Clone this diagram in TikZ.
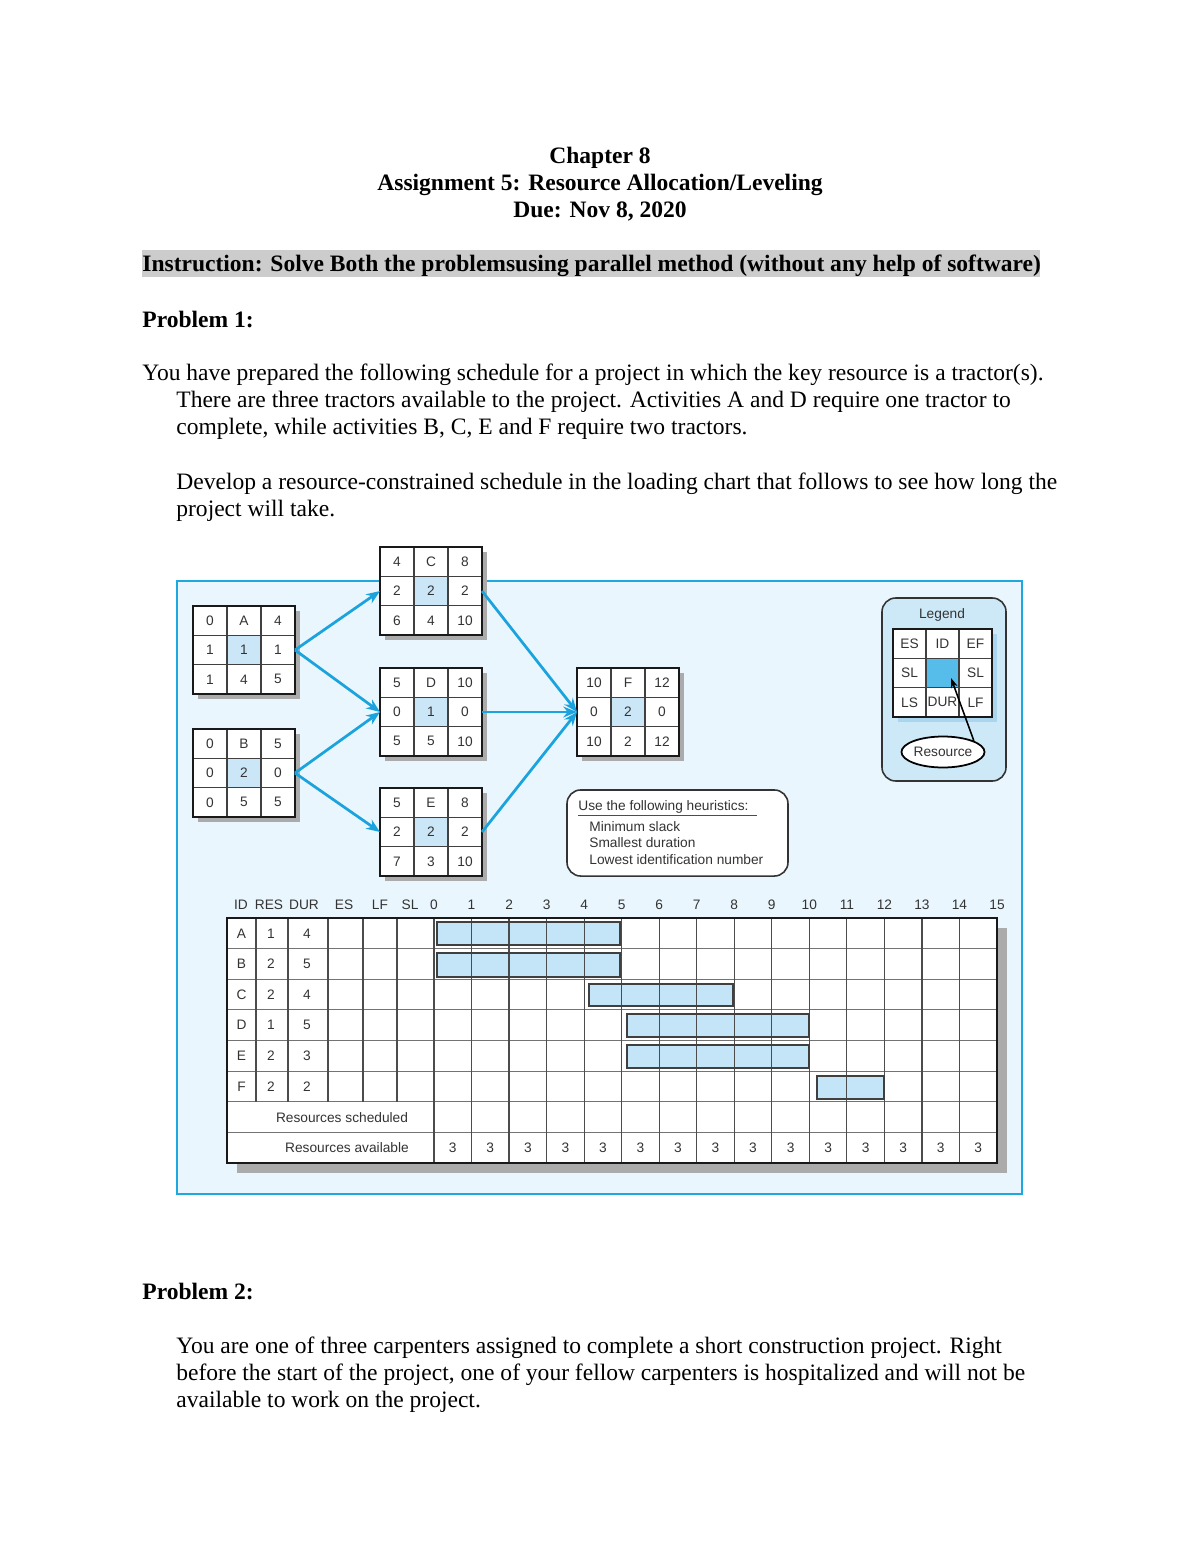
\documentclass[tikz,border=0pt]{standalone}
\usepackage{fontspec}
\setmainfont{Liberation Serif}
\newfontfamily\dsans{Liberation Sans}
\usetikzlibrary{arrows.meta,shapes.geometric}
\definecolor{panelfill}{HTML}{EAF6FD}
\definecolor{panelline}{HTML}{1EA8E0}
\definecolor{flowcol}{HTML}{1BA3DD}
\definecolor{cellblue}{HTML}{CBE7F7}
\definecolor{legfill}{HTML}{CDE9F8}
\definecolor{legmid}{HTML}{56BDEA}
\definecolor{legshadow}{HTML}{A9D6EE}
\definecolor{barblue}{HTML}{C4E5F7}
\definecolor{shadowgray}{HTML}{ABABAB}
\definecolor{dtext}{HTML}{333333}
\tikzset{
 body/.style={anchor=base west, inner sep=0, font=\fontsize{12}{13.8}\selectfont},
 bodyb/.style={anchor=base west, inner sep=0, font=\fontsize{12}{13.8}\selectfont\bfseries},
 titleb/.style={anchor=base, inner sep=0, font=\fontsize{12}{13.8}\selectfont\bfseries},
 dlabel/.style={inner sep=0, text=dtext, font=\dsans\fontsize{7}{8}\selectfont},
 actnode/.style={rectangle, fill=white, minimum width=52.02pt, minimum height=44.88pt, inner sep=0, outer sep=0},
 innerline/.style={draw=black!75, line width=0.6pt},
 outerline/.style={draw=black!90, line width=1.1pt},
 flow/.style={draw=flowcol, line width=1.4pt, -{Stealth[length=7pt,width=5.5pt]}},
 gridline/.style={draw=black!70, line width=0.6pt},
}
\newcommand\actbox[5]{%
  \begin{scope}[shift={#2}]
    \fill[shadowgray] (-46,-39) rectangle (56,49);
    \node[actnode] (#1) at (0,0) {};
    \fill[cellblue] (-17,-14.667) rectangle (17,14.667);
    \draw[innerline] (-17,-44) -- (-17,44) (17,-44) -- (17,44)
      (-51,-14.667) -- (51,-14.667) (-51,14.667) -- (51,14.667);
    \draw[outerline] (-51,-44) rectangle (51,44);
    \foreach \a/\b/\c [count=\r] in {#3,#4,#5}{
      \node[dlabel] at (-34,{(\r-2)*29.333}) {\a};
      \node[dlabel] at (0,{(\r-2)*29.333}) {\b};
      \node[dlabel] at (34,{(\r-2)*29.333}) {\c};
    }
  \end{scope}}
\begin{document}
\begin{tikzpicture}[x=0.51pt,y=-0.51pt]
\useasboundingbox[fill=white] (0,0) rectangle (1200,1553);
% ---- header text
\node[titleb] (t1) at (600,164) {Chapter 8};
\node[titleb] (t2) at (600,191) {Assignment 5: Resource Allocation/Leveling};
\node[titleb] (t3) at (600,218) {Due: Nov 8, 2020};
\fill[black!20] (142,250) rectangle (1040,277);
\node[bodyb] (instr) at (142,271) {Instruction: Solve Both the problemsusing parallel method (without any help of software)};
\node[bodyb] (p1) at (142,327) {Problem 1:};
\node[body] (l1) at (142,380) {You have prepared the following schedule for a project in which the key resource is a tractor(s).};
\node[body] (l2) at (176,407) {There are three tractors available to the project. Activities A and D require one tractor to};
\node[body] (l3) at (176,434) {complete, while activities B, C, E and F require two tractors.};
\node[body] (l4) at (176,489) {Develop a resource-constrained schedule in the loading chart that follows to see how long the};
\node[body] (l5) at (176,516) {project will take.};
\node[bodyb] (p2) at (142,1299) {Problem 2:};
\node[body] (m1) at (176,1353) {You are one of three carpenters assigned to complete a short construction project. Right};
\node[body] (m2) at (176,1380) {before the start of the project, one of your fellow carpenters is hospitalized and will not be};
\node[body] (m3) at (176,1407) {available to work on the project.};
% ---- panel
\draw[draw=panelline, fill=panelfill, line width=1.3pt] (177,581) rectangle (1022,1194);
% ---- activity boxes
\actbox{A}{(244,650)}{0/A/4}{1/1/1}{1/4/5}
\actbox{B}{(244,773)}{0/B/5}{0/2/0}{0/5/5}
\actbox{C}{(431,591)}{4/C/8}{2/2/2}{6/4/10}
\actbox{D}{(431,712)}{5/D/10}{0/1/0}{5/5/10}
\actbox{E}{(431,832)}{5/E/8}{2/2/2}{7/3/10}
\actbox{F}{(628,712)}{10/F/12}{0/2/0}{10/2/12}
\draw[flow] (A.east) -- (C.west);
\draw[flow] (A.east) -- (D.west);
\draw[flow] (B.east) -- (D.west);
\draw[flow] (B.east) -- (E.west);
\draw[flow] (C.east) -- (F.west);
\draw[flow] (D.east) -- (F.west);
\draw[flow] (E.east) -- (F.west);
% ---- legend
\node[draw=black!80, line width=0.8pt, fill=legfill, rounded corners=7pt, minimum width=63.24pt, minimum height=93.33pt, inner sep=0] (legend) at (944,689.5) {};
\node[dlabel] (legt) at (942,615) {Legend};
\fill[legshadow] (898,634) rectangle (997,722);
\fill[white] (893,629) rectangle (992,717);
\fill[legmid] (926,658.33) rectangle (959,687.67);
\draw[innerline] (926,629) -- (926,717) (959,629) -- (959,717) (893,658.33) -- (992,658.33) (893,687.67) -- (992,687.67);
\draw[outerline] (893,629) rectangle (992,717);
\foreach \a/\b/\c [count=\r] in {ES/ID/EF,SL//SL,LS/DUR/LF}{
  \node[dlabel] at (909.5,{629+29.33*(\r-0.5)}) {\a};
  \node[dlabel] at (942.5,{629+29.33*(\r-0.5)}) {\b};
  \node[dlabel] at (975.5,{629+29.33*(\r-0.5)}) {\c};
}
\node[ellipse, draw=black, line width=0.9pt, fill=white, minimum width=42.3pt, minimum height=15.8pt, inner sep=0, text=dtext, font=\dsans\fontsize{7}{8}\selectfont] (res) at (943,752) {Resource};
\coordinate (legc) at (951,678);
\draw[black, line width=0.8pt, -{Stealth[length=5pt,width=3.5pt]}] (res.20) -- (legc);
% ---- heuristics
\node[draw=black!80, line width=0.8pt, fill=white, rounded corners=7pt, minimum width=112.7pt, minimum height=43.9pt, inner sep=0] (heur) at (677.5,833) {};
\node[dlabel, anchor=west] (h0) at (578,807) {Use the following heuristics:};
\draw[black!70, line width=0.5pt] (578,815) -- (757,815);
\node[dlabel, anchor=west] (h1) at (589,827) {Minimum slack};
\node[dlabel, anchor=west] (h2) at (589,843) {Smallest duration};
\node[dlabel, anchor=west] (h3) at (589,860) {Lowest identification number};
% ---- loading chart
\fill[shadowgray] (237,928) rectangle (1007,1173);
\fill[white] (227,918) rectangle (997,1163);
\foreach \x/\y/\u/\v in {437/922/620/945, 437/953/620/977, 589/984/733/1006, 627/1014/809/1037, 627/1045/809/1068, 817/1076/884/1099}{
  \fill[barblue] (\x,\y) rectangle (\u,\v);
}
\foreach \k in {1,...,7}{
  \draw[draw=black!55, line width=0.5pt] (227,{918+30.625*\k}) -- (997,{918+30.625*\k});
}
\foreach \x in {256,288,363,397}{
  \draw[gridline] (\x,918) -- (\x,1101.75);
}
\draw[gridline, line width=1pt] (328,918) -- (328,1101.75);
\draw[gridline, line width=1pt] (434,918) -- (434,1163);
\foreach \k in {1,...,14}{
  \draw[gridline] ({434+37.533*\k},918) -- ({434+37.533*\k},1163);
}
\foreach \x/\y/\u/\v in {437/922/620/945, 437/953/620/977, 589/984/733/1006, 627/1014/809/1037, 627/1045/809/1068, 817/1076/884/1099}{
  \draw[black!75, line width=0.7pt] (\x,\y) rectangle (\u,\v);
}
\draw[black!90, line width=1.2pt] (227,918) rectangle (997,1163);
% header
\foreach \t/\x in {ID/241, RES/269, DUR/304, ES/344, LF/380, SL/410}{
  \node[dlabel] at (\x,905) {\t};
}
\foreach \k in {0,...,15}{
  \node[dlabel] at ({434+37.533*\k},905) {\k};
}
\foreach \i/\r/\d [count=\n] in {A/1/4, B/2/5, C/2/4, D/1/5, E/2/3, F/2/2}{
  \node[dlabel] at (241.5,{918+30.625*(\n-0.5)}) {\i};
  \node[dlabel] at (271,{918+30.625*(\n-0.5)}) {\r};
  \node[dlabel] at (307,{918+30.625*(\n-0.5)}) {\d};
}
\node[dlabel] (rs) at (342,1118) {Resources scheduled};
\node[dlabel] (ra) at (347,1147.5) {Resources available};
\foreach \k in {0,...,14}{
  \node[dlabel] at ({434+37.533*(\k+0.5)},1147.5) {3};
}
\end{tikzpicture}
\end{document}
